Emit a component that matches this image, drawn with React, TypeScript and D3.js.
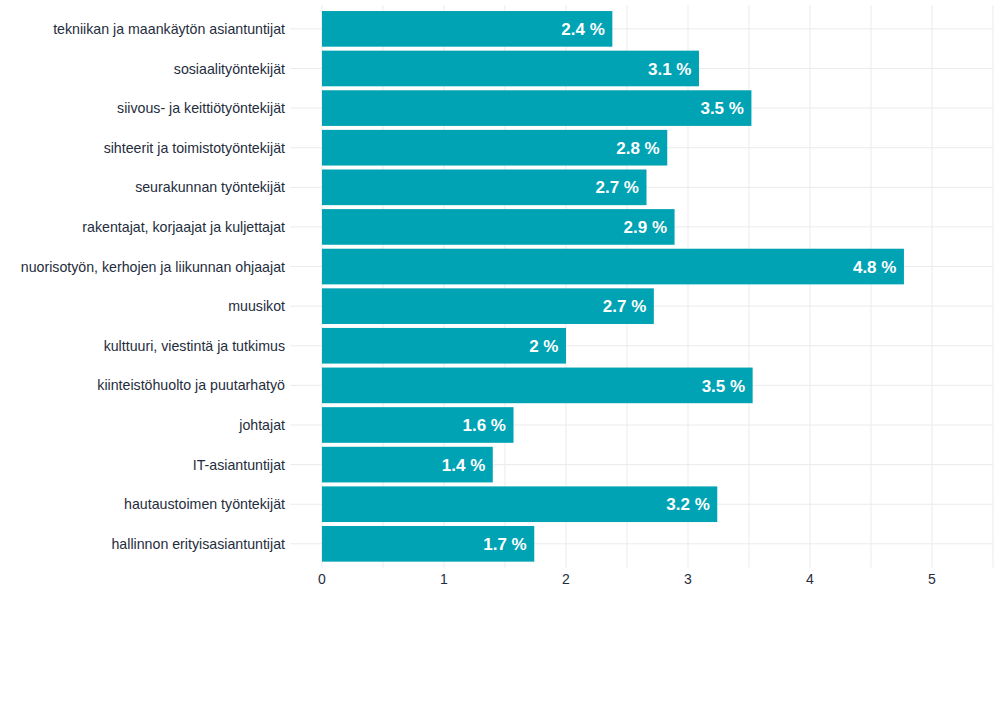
import React from "react";
import * as d3 from "d3";

const categories = [
  "tekniikan ja maankäytön asiantuntijat",
  "sosiaalityöntekijät",
  "siivous- ja keittiötyöntekijät",
  "sihteerit ja toimistotyöntekijät",
  "seurakunnan työntekijät",
  "rakentajat, korjaajat ja kuljettajat",
  "nuorisotyön, kerhojen ja liikunnan ohjaajat",
  "muusikot",
  "kulttuuri, viestintä ja tutkimus",
  "kiinteistöhuolto ja puutarhatyö",
  "johtajat",
  "IT-asiantuntijat",
  "hautaustoimen työntekijät",
  "hallinnon erityisasiantuntijat",
];

const values = [2.38, 3.09, 3.52, 2.83, 2.66, 2.89, 4.77, 2.72, 2.0, 3.53, 1.57, 1.4, 3.24, 1.74];

const xTicks = [0, 1, 2, 3, 4, 5];
const xGrid = [0, 0.5, 1, 1.5, 2, 2.5, 3, 3.5, 4, 4.5, 5, 5.5];

const W = 1000;
const H = 728;
const panel = { left: 290, right: 993, top: 5.1, bottom: 567.6 };

export default function App() {
  const x = d3.scaleLinear().domain([-0.262, 5.5]).range([panel.left, panel.right]);
  const y = d3
    .scaleBand<string>()
    .domain(categories)
    .range([panel.top, panel.bottom])
    .paddingInner(0.1)
    .paddingOuter(0.15);
  const fmt = (v: number) => `${Math.round(v * 10) / 10} %`;
  return (
    <svg
      width={W}
      height={H}
      style={{ position: "absolute", left: 0, top: 0, display: "block", background: "#fff" }}
      fontFamily="Liberation Sans, Arial, sans-serif"
    >
      {xGrid.map((g) => (
        <line key={"vg" + g} x1={x(g)} x2={x(g)} y1={panel.top} y2={panel.bottom} stroke="#ebebeb" strokeWidth={1} />
      ))}
      {categories.map((c) => {
        const cy = (y(c) as number) + y.bandwidth() / 2;
        return <line key={"hg" + c} x1={panel.left} x2={panel.right} y1={cy} y2={cy} stroke="#ebebeb" strokeWidth={1} />;
      })}
      {categories.map((c, i) => {
        const y0 = y(c) as number;
        const cy = y0 + y.bandwidth() / 2;
        return (
          <g key={"b" + c}>
            <rect x={x(0)} y={y0} width={x(values[i]) - x(0)} height={y.bandwidth()} fill="#00a3b4" />
            <text
              x={x(values[i]) - 7.5}
              y={cy}
              dy="0.36em"
              textAnchor="end"
              fill="#ffffff"
              fontWeight="bold"
              fontSize={17}
            >
              {fmt(values[i])}
            </text>
            <text x={285} y={cy} dy="0.36em" textAnchor="end" fill="#1f2d3d" fontSize={14.2}>
              {c}
            </text>
          </g>
        );
      })}
      {xTicks.map((t) => (
        <text key={"xt" + t} x={x(t)} y={579} dy="0.36em" textAnchor="middle" fill="#1f2d3d" fontSize={14}>
          {t}
        </text>
      ))}
    </svg>
  );
}
